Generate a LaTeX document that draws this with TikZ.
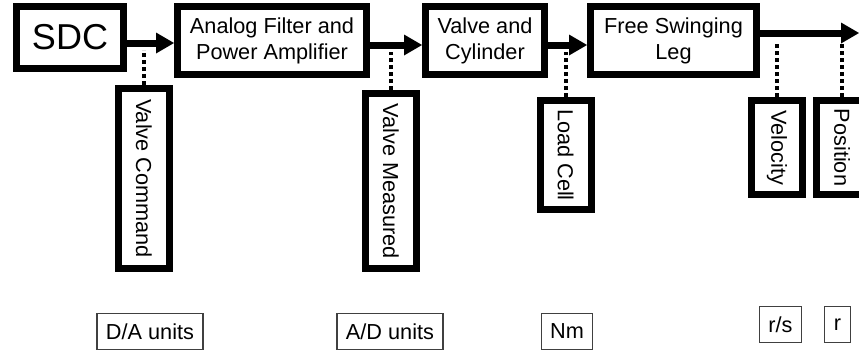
\documentclass[tikz,border=0pt]{standalone}
\usepackage{fontspec}
\setmainfont{Liberation Sans}
\usepackage{graphicx}
\usepackage{xcolor}
\definecolor{cMain}{HTML}{000000}
\definecolor{cUnit}{HTML}{404040}
\usepackage{tikz}
\usetikzlibrary{positioning,arrows.meta}
\tikzset{
  block-main/.style={draw=cMain,line width=7pt,minimum height=68pt,inner sep=0pt,
    align=center,font=\fontsize{21.7}{26}\selectfont},
  block-tap/.style={draw=cMain,line width=7pt,minimum width=51pt,inner sep=0pt,
    font=\fontsize{21.7}{26}\selectfont},
  % thin boxes under the taps hold the units
  block-unit/.style={draw=cUnit,line width=1.2pt,minimum height=36pt,inner xsep=9pt,
    font=\fontsize{21.7}{26}\selectfont},
  arrow-flow/.style={-{Triangle[length=18pt,width=21pt,line width=0pt]},line width=7pt,draw=cMain},
  line-tap/.style={draw=cMain,line width=4pt,dash pattern=on 4pt off 3pt},
}

\begin{document}
\begin{tikzpicture}[x=1pt,y=1pt]
  \useasboundingbox (0,0) rectangle (859,-351);
  \clip (0,0) rectangle (859,-351);
  \node[block-main,minimum width=107pt,minimum height=62pt,font=\fontsize{36}{40}\selectfont] (sdc) at (70,-37.5) {SDC};
  \node[block-main,minimum width=189pt,right=47pt of sdc.north east,anchor=north west] (af) {Analog Filter and\\Power Amplifier};
  \node[block-main,minimum width=119pt,right=52pt of af.north east,anchor=north west] (vc) {Valve and\\Cylinder};
  \node[block-main,minimum width=166pt,right=39pt of vc.north east,anchor=north west] (fsl) {Free Swinging\\Leg};
  \coordinate (out) at (859,-33);
  \node[block-tap,minimum height=180pt] (vcmd) at (144,-178.5) {\rotatebox{-90}{Valve Command}};
  \node[block-tap,minimum height=175pt] (vmeas) at (391,-181) {\rotatebox{-90}{Valve Measured}};
  \node[block-tap,minimum height=109pt] (lcell) at (565.5,-155) {\rotatebox{-90}{Load Cell}};
  \node[block-tap,minimum height=94pt] (vel) at (777,-147.5) {\rotatebox{-90}{Velocity}};
  \node[block-tap,minimum height=94pt] (pos) at (842,-147.5) {\rotatebox{-90}{Position}};
  \node[block-unit] (da) at (150,-331.5) {D/A units};
  \node[block-unit] (ad) at (390,-331.5) {A/D units};
  \node[block-unit] (nm) at (567,-331.5) {Nm};
  \node[block-unit] (rs) at (780.5,-324.5) {r/s};
  \node[block-unit] (rr) at (837.5,-324.5) {r};
  \draw[arrow-flow] ([yshift=-5.5pt]sdc.east) -- coordinate (f1) ([yshift=-5.5pt]sdc.east -| af.west);
  \draw[arrow-flow] ([yshift=-4.5pt]af.east) -- coordinate (f2) ([yshift=-4.5pt]af.east -| vc.west);
  \draw[arrow-flow] ([yshift=-4.5pt]vc.east) -- coordinate (f3) ([yshift=-4.5pt]vc.east -| fsl.west);
  \draw[arrow-flow] (fsl.east |- out) -- (out);
  \draw[line-tap] (vcmd.north) -- ([yshift=-7pt]vcmd.north |- f1);
  \draw[line-tap] (vmeas.north) -- ([yshift=-7pt]vmeas.north |- f2);
  \draw[line-tap] (lcell.north) -- ([yshift=-7pt]lcell.north |- f3);
  \draw[line-tap] (vel.north) -- ([yshift=-9pt]vel.north |- out);
  \draw[line-tap] (pos.north) -- ([yshift=-9pt]pos.north |- out);
\end{tikzpicture}
\end{document}
